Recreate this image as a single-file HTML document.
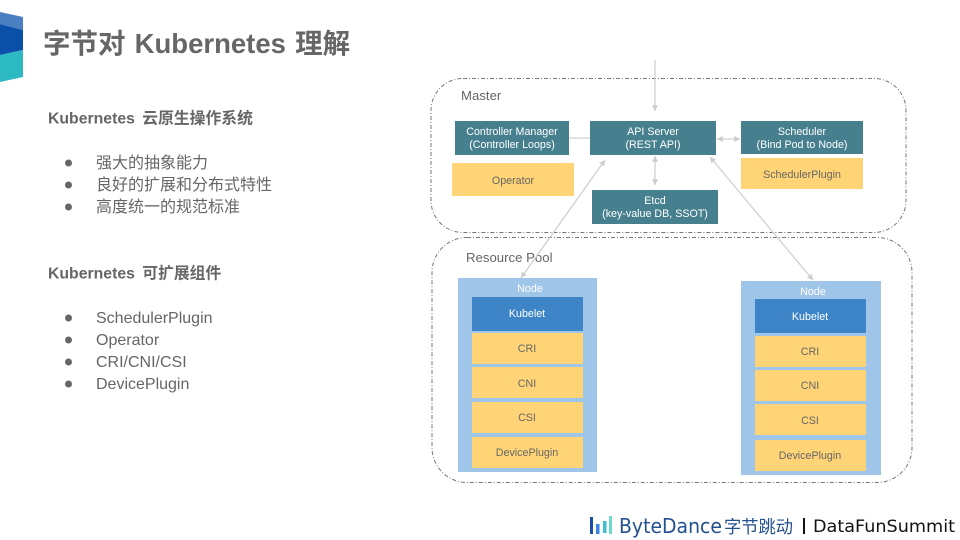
<!DOCTYPE html>
<html><head><meta charset="utf-8">
<style>
html,body{margin:0;padding:0;background:#fff;width:960px;height:540px;overflow:hidden}
svg{display:block}
text{font-family:"Liberation Sans","Noto Sans CJK SC",sans-serif}
.n{font-size:10.700px;fill:#fff;text-anchor:middle}
.d{font-size:10.700px;fill:#666;text-anchor:middle}
.b{font-size:16px;fill:#666}
.h{font-size:15.800px;fill:#666;font-weight:bold;word-spacing:3px}
</style></head><body>
<svg width="960" height="540" viewBox="0 0 960 540" xmlns="http://www.w3.org/2000/svg">
<defs>
<marker id="a" viewBox="0 0 6 6" refX="5.800" refY="3" markerWidth="6" markerHeight="6" markerUnits="userSpaceOnUse" orient="auto-start-reverse"><path d="M0 0L6 3L0 6Z" fill="#ccc"/></marker>
</defs>
<!-- corner logo -->
<polygon points="0,12 23,17 23,30 0,24" fill="#4a7fc2"/>
<polygon points="0,24 23,30 23,50 0,55" fill="#0a50a8"/>
<polygon points="0,55 23,50 23,77 0,82" fill="#2cb9c2"/>
<!-- title -->
<text x="43" y="53" font-size="27.500" font-weight="bold" fill="#666" word-spacing="1.500">字节对 Kubernetes 理解</text>
<!-- left text -->
<text class="h" x="48" y="123.500">Kubernetes 云原生操作系统</text>
<g fill="#666"><circle cx="68.500" cy="163" r="3.500"/><circle cx="68.500" cy="185" r="3.500"/><circle cx="68.500" cy="207" r="3.500"/>
<circle cx="68.500" cy="318" r="3.500"/><circle cx="68.500" cy="340" r="3.500"/><circle cx="68.500" cy="362" r="3.500"/><circle cx="68.500" cy="384" r="3.500"/></g>
<text class="b" x="96" y="168">强大的抽象能力</text>
<text class="b" x="96" y="190">良好的扩展和分布式特性</text>
<text class="b" x="96" y="212">高度统一的规范标准</text>
<text class="h" x="48" y="278.500">Kubernetes 可扩展组件</text>
<text class="b" x="96" y="323">SchedulerPlugin</text>
<text class="b" x="96" y="345">Operator</text>
<text class="b" x="96" y="367">CRI/CNI/CSI</text>
<text class="b" x="96" y="389">DevicePlugin</text>
<!-- containers -->
<rect x="431" y="78.500" width="475" height="154" rx="32" fill="none" stroke="#777" stroke-width="1" stroke-dasharray="4 2 1 2"/>
<rect x="432" y="237.500" width="480" height="245" rx="35" fill="none" stroke="#777" stroke-width="1" stroke-dasharray="4 2 1 2"/>
<text x="461" y="100" font-size="13.200" fill="#666">Master</text>
<text x="466" y="262" font-size="13.200" fill="#666">Resource Pool</text>
<!-- master nodes -->
<g fill="#467f8e">
<rect x="455" y="121" width="114" height="34"/>
<rect x="590" y="121" width="126" height="34"/>
<rect x="592" y="190" width="126" height="34"/>
<rect x="741" y="121" width="122" height="33"/>
</g>
<g fill="#ffd476">
<rect x="452" y="163" width="122" height="33"/>
<rect x="741" y="158" width="122" height="31"/>
</g>
<text class="n" x="512" y="135">Controller Manager</text>
<text class="n" x="512" y="148">(Controller Loops)</text>
<text class="n" x="653" y="135">API Server</text>
<text class="n" x="653" y="148">(REST API)</text>
<text class="n" x="655" y="204">Etcd</text>
<text class="n" x="655" y="217">(key-value DB, SSOT)</text>
<text class="n" x="802" y="135">Scheduler</text>
<text class="n" x="802" y="148">(Bind Pod to Node)</text>
<text class="d" x="513" y="184">Operator</text>
<text class="d" x="802" y="178">SchedulerPlugin</text>
<!-- node 1 -->
<rect x="458" y="278" width="139" height="194" fill="#9fc5e8"/>
<rect x="472" y="297" width="111" height="34" fill="#3d85c6"/>
<g fill="#ffd476">
<rect x="472" y="333" width="111" height="31"/>
<rect x="472" y="367" width="111" height="31"/>
<rect x="472" y="402" width="111" height="31"/>
<rect x="472" y="437" width="111" height="31"/>
</g>
<text class="n" x="530" y="292">Node</text>
<text class="n" x="527" y="317">Kubelet</text>
<text class="d" x="527" y="352">CRI</text>
<text class="d" x="527" y="387">CNI</text>
<text class="d" x="527" y="421">CSI</text>
<text class="d" x="527" y="456">DevicePlugin</text>
<!-- node 2 -->
<rect x="741" y="281" width="140" height="194" fill="#9fc5e8"/>
<rect x="755" y="299" width="111" height="34" fill="#3d85c6"/>
<g fill="#ffd476">
<rect x="755" y="336" width="111" height="31"/>
<rect x="755" y="370" width="111" height="31"/>
<rect x="755" y="404" width="111" height="31"/>
<rect x="755" y="440" width="111" height="31"/>
</g>
<text class="n" x="813" y="295">Node</text>
<text class="n" x="810" y="320">Kubelet</text>
<text class="d" x="810" y="355">CRI</text>
<text class="d" x="810" y="389">CNI</text>
<text class="d" x="810" y="424">CSI</text>
<text class="d" x="810" y="459">DevicePlugin</text>
<!-- connectors -->
<g stroke="#d0d0d0" stroke-width="1.300" fill="none">
<line x1="655" y1="60" x2="655" y2="111" marker-end="url(#a)"/>
<line x1="569" y1="138" x2="590" y2="138"/>
<line x1="717" y1="139" x2="740" y2="139" marker-start="url(#a)" marker-end="url(#a)"/>
<line x1="655" y1="156" x2="655" y2="185" marker-start="url(#a)" marker-end="url(#a)"/>
<line x1="605" y1="160" x2="521" y2="278" marker-start="url(#a)" marker-end="url(#a)"/>
<line x1="710" y1="157" x2="813" y2="280" marker-start="url(#a)" marker-end="url(#a)"/>
</g>
<!-- footer -->
<rect x="590" y="517" width="3" height="17" fill="#1d4fa8"/>
<rect x="596" y="524" width="3.500" height="10" fill="#3a86e0"/>
<rect x="603" y="521" width="3.500" height="12" fill="#3dbfd0"/>
<rect x="609" y="516" width="3" height="18" fill="#6fd8d0"/>
<text x="619" y="533" font-size="20" fill="#23508f" style="font-family:'DejaVu Sans',sans-serif" textLength="103" lengthAdjust="spacingAndGlyphs">ByteDance</text>
<text x="724" y="533" font-size="17.500" fill="#23508f" textLength="69" lengthAdjust="spacingAndGlyphs">字节跳动</text>
<rect x="803" y="518" width="2" height="16" fill="#111"/>
<text x="813" y="532" font-size="17" fill="#111" style="font-family:'DejaVu Sans',sans-serif" textLength="142" lengthAdjust="spacingAndGlyphs">DataFunSummit</text>
</svg>
</body></html>
